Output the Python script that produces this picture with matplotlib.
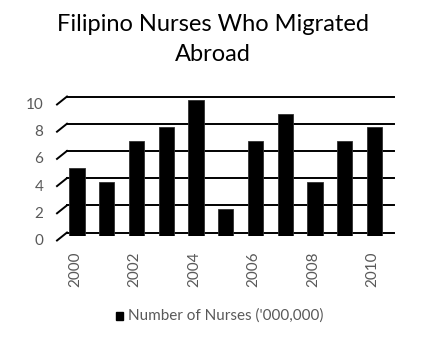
import matplotlib.pyplot as plt
import matplotlib.transforms as mtransforms

years = [2000, 2001, 2002, 2003, 2004, 2005, 2006, 2007, 2008, 2009, 2010]
nurses = [5, 4, 7, 8, 10, 2, 7, 9, 4, 7, 8]
y_ticks = [0, 2, 4, 6, 8, 10]
x_labels = ['2000', '2002', '2004', '2006', '2008', '2010']

plt.rcParams['font.family'] = ['Lato', 'DejaVu Sans']

fig = plt.figure(figsize=(4.28, 3.40), dpi=100)
W, H = 428, 340
# axes in pixels: left 67, right 394, zero at y=236, ten at y=100 (from top)
ax = fig.add_axes([67 / W, (H - 236) / H, (394 - 67) / W, 136 / H])
ax.set_ylim(0, 10)
ax.set_xlim(-0.336, len(years) - 1 + 0.655)
for s in ax.spines.values():
    s.set_visible(False)

# back-wall gridlines (shifted up a little) with the slanted floor segment on the left
px = 136 / 10  # pixels per unit
up = mtransforms.ScaledTranslation(0, 3.5 / 100, fig.dpi_scale_trans)
blend = mtransforms.blended_transform_factory(ax.transAxes, ax.transData)
for v in y_ticks:
    ax.plot([0, 1], [v, v], color='black', lw=1.4, transform=blend + up,
            clip_on=False, zorder=1)
    ax.plot([-10 / 327, 0], [v - 4.5 / px, v + 3.5 / px], color='black', lw=1.4,
            transform=blend, clip_on=False, zorder=1)

xs = list(range(len(years)))
ax.bar(xs, nurses, width=0.52, color='black', edgecolor='#303030',
       linewidth=0.6, zorder=3)

ax.set_yticks(y_ticks)
ax.set_yticklabels([str(v) for v in y_ticks])
ax.tick_params(axis='y', length=0, pad=17, labelsize=11, labelcolor='#595959')
down = mtransforms.ScaledTranslation(0, -3.5 / 100, fig.dpi_scale_trans)
for lbl in ax.get_yticklabels():
    lbl.set_transform(lbl.get_transform() + down)

ax.set_xticks(xs[::2])
ax.set_xticklabels(x_labels, rotation=90)
ax.tick_params(axis='x', length=0, pad=11, labelsize=11, labelcolor='#595959')
for lbl in ax.get_xticklabels():
    lbl.set_transform(lbl.get_transform() + mtransforms.ScaledTranslation(-2 / 100, 0, fig.dpi_scale_trans))

fig.text(0.497, 1 - 31 / H, 'Filipino Nurses Who Migrated', ha='center', va='baseline',
         fontsize=17, color='black')
fig.text(0.497, 1 - 61 / H, 'Abroad', ha='center', va='baseline',
         fontsize=17, color='black')

# legend
fig.patches.append(plt.Rectangle((116 / W, 1 - 320 / H), 7 / W, 8 / H,
                                 transform=fig.transFigure, color='black'))
fig.text(128 / W, 1 - 315.5 / H, "Number of Nurses ('000,000)", ha='left', va='center',
         fontsize=11, color='#595959')

fig.savefig('out.png', dpi=100)
